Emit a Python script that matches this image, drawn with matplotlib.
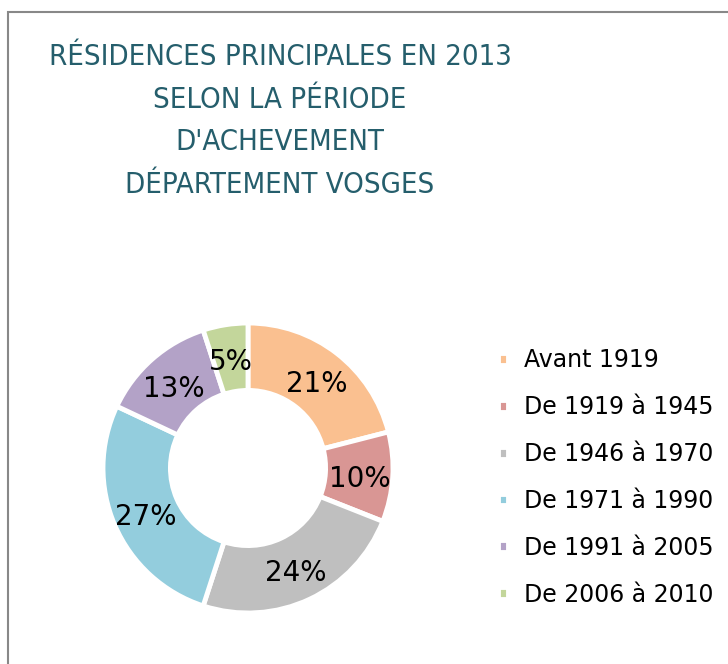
import matplotlib
matplotlib.use("Agg")
import matplotlib.pyplot as plt
from matplotlib.patches import Rectangle

periodes = ["Avant 1919", "De 1919 à 1945", "De 1946 à 1970",
            "De 1971 à 1990", "De 1991 à 2005", "De 2006 à 2010"]
parts = [21, 10, 24, 27, 13, 5]
couleurs = ["#FAC090", "#D99694", "#BFBFBF", "#93CDDD", "#B3A2C7", "#C3D69B"]
titre = "RÉSIDENCES PRINCIPALES EN 2013\nSELON LA PÉRIODE\nD'ACHEVEMENT\nDÉPARTEMENT VOSGES"

plt.rcParams['font.family'] = ['DejaVu Sans']

fig = plt.figure(figsize=(7.28, 6.64), dpi=100)

# cadre gris (bord gauche et haut)
fig.patches.append(Rectangle((8 / 728, -0.1), 1.2, 1 - 12 / 664 + 0.1,
                             transform=fig.transFigure, fill=False,
                             edgecolor="#888888", linewidth=1.5))

fig.text(280 / 728, 1 - 43 / 664, titre, ha="center", va="top",
         fontsize=21, color="#255E6C", linespacing=1.67,
         fontstretch='condensed')

ax = fig.add_axes([103 / 728, 51 / 664, 290 / 728, 290 / 664])
wedges, texts, autotexts = ax.pie(
    parts, colors=couleurs, startangle=90, counterclock=False,
    autopct=lambda p: f"{p:.0f}%", pctdistance=0.77,
    wedgeprops=dict(width=0.465, edgecolor="white", linewidth=3.5),
    textprops=dict(fontsize=20, color="black"))
# étiquettes un peu plus bas
for t in autotexts:
    x, y = t.get_position()
    t.set_position((x, y - 0.03))
ax.set_xlim(-1, 1)
ax.set_ylim(-1, 1)

fig.legend(wedges, periodes, loc="upper left", bbox_to_anchor=(477 / 728, 1 - 327 / 664),
           frameon=False, fontsize=17, handlelength=0.4, handleheight=0.4,
           handletextpad=0.7, labelspacing=0.97)

fig.savefig("out.png", dpi=100)
